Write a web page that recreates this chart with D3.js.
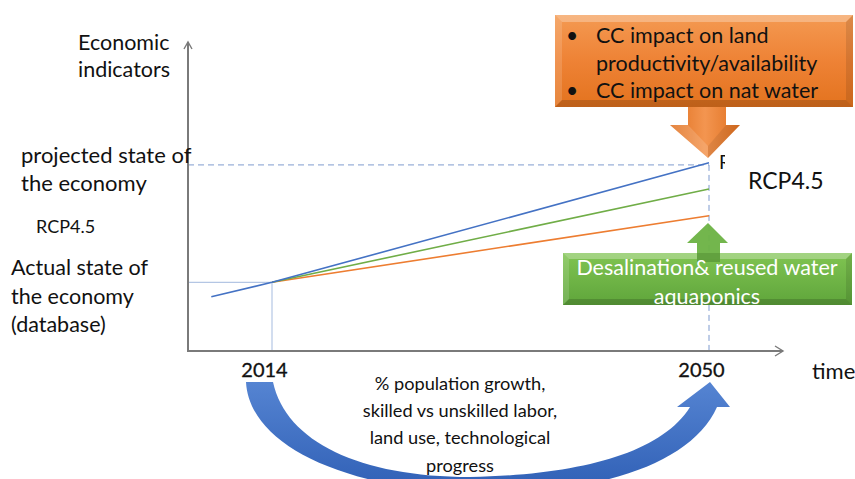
<!DOCTYPE html>
<html>
<head>
<meta charset="utf-8">
<script src="https://cdn.jsdelivr.net/npm/d3@7"></script>
<style>
  html, body { margin: 0; padding: 0; background: #fff; }
  svg { display: block; }
  text { font-family: Lato, "Open Sans", sans-serif; fill: #111; }
</style>
</head>
<body>
<svg id="chart" width="855" height="479"></svg>
<script>
// ---- data ------------------------------------------------------------
const tickYears = [2014, 2050];
const blueYears = [2009, 2014, 2050];
const blueValues = [79, 100, 274];     // projected path (RCP4.5)
const greenYears = [2014, 2050];
const greenValues = [100, 236];        // with desalination / reuse
const orangeYears = [2014, 2050];
const orangeValues = [100, 197];       // with climate-change impacts
const actualState = { year: 2014, value: 100 };
const projectedState = { year: 2050, value: 271 };

const yLabelLines = ["Economic", "indicators"];
const projectedLines = ["projected state of", "the economy"];
const actualLines = ["Actual state of", "the economy", "(database)"];
const driverLines = ["% population growth,", "skilled vs unskilled labor,", "land use, technological", "progress"];
const impactLines = ["CC impact on land", "productivity/availability", "CC impact on nat water"];
const adaptLines = ["Desalination& reused water", "aquaponics"];

// ---- scales ----------------------------------------------------------
const svg = d3.select("#chart");
const x = d3.scaleLinear().domain([2014, 2050]).range([272, 709]);
const y = d3.scaleLinear().domain([0, 450]).range([351, 42]);
const axisX0 = 188, axisXEnd = 783, axisY0 = y(0), axisYEnd = y(450);

const defs = svg.append("defs");
function vGrad(id, stops) {
  const g = defs.append("linearGradient").attr("id", id)
    .attr("x1", 0).attr("y1", 0).attr("x2", 0).attr("y2", 1);
  stops.forEach(([o, c]) => g.append("stop").attr("offset", o).attr("stop-color", c));
}
vGrad("orangeFill", [[0, "#F49A52"], [0.5, "#EE8235"], [1, "#E3731E"]]);
vGrad("greenFill", [[0, "#80C452"], [1, "#5FA53B"]]);
vGrad("blueFill", [[0, "#5584D2"], [1, "#2F5FB5"]]);
const hg = defs.append("linearGradient").attr("id", "orangeShaft")
  .attr("x1", 0).attr("y1", 0).attr("x2", 1).attr("y2", 0);
[[0, "#E0701F"], [0.5, "#F39550"], [1, "#E0701F"]].forEach(([o, c]) =>
  hg.append("stop").attr("offset", o).attr("stop-color", c));

// ---- reference lines -------------------------------------------------
svg.append("line")
  .attr("x1", axisX0).attr("x2", x(actualState.year))
  .attr("y1", y(actualState.value)).attr("y2", y(actualState.value))
  .attr("stroke", "#B4C6E4").attr("stroke-width", 1.2);
svg.append("line")
  .attr("x1", x(actualState.year)).attr("x2", x(actualState.year))
  .attr("y1", y(actualState.value)).attr("y2", axisY0)
  .attr("stroke", "#B4C6E4").attr("stroke-width", 1.2);
svg.append("line")
  .attr("x1", axisX0).attr("x2", x(projectedState.year))
  .attr("y1", y(projectedState.value)).attr("y2", y(projectedState.value))
  .attr("stroke", "#7F9BCF").attr("stroke-width", 1).attr("stroke-dasharray", "6,4");
svg.append("line")
  .attr("x1", x(projectedState.year)).attr("x2", x(projectedState.year))
  .attr("y1", y(projectedState.value)).attr("y2", axisY0)
  .attr("stroke", "#7F9BCF").attr("stroke-width", 1).attr("stroke-dasharray", "6,4");

// ---- axes --------------------------------------------------------------
const axisColor = "#7A7A7A";
svg.append("line").attr("x1", axisX0).attr("x2", axisX0)
  .attr("y1", axisY0 + 1).attr("y2", axisYEnd)
  .attr("stroke", axisColor).attr("stroke-width", 2);
svg.append("path")
  .attr("d", `M${axisX0 - 4},${axisYEnd + 7} L${axisX0},${axisYEnd} L${axisX0 + 4},${axisYEnd + 7}`)
  .attr("fill", "none").attr("stroke", axisColor).attr("stroke-width", 1.4);
svg.append("line").attr("x1", axisX0 - 1).attr("x2", axisXEnd)
  .attr("y1", axisY0).attr("y2", axisY0)
  .attr("stroke", axisColor).attr("stroke-width", 2);
svg.append("path")
  .attr("d", `M${axisXEnd - 8},${axisY0 - 5} L${axisXEnd},${axisY0} L${axisXEnd - 8},${axisY0 + 5}`)
  .attr("fill", "none").attr("stroke", axisColor).attr("stroke-width", 1.4);

const xAxis = svg.append("g").attr("transform", `translate(0,${axisY0})`)
  .call(d3.axisBottom(x).tickValues(tickYears).tickSize(0).tickPadding(0).tickFormat(d3.format("d")));
xAxis.select(".domain").remove();
xAxis.selectAll("text")
  .attr("font-family", "Lato, sans-serif").attr("font-size", 20)
  .attr("fill", "#111").attr("stroke", "#111").attr("stroke-width", 0.3)
  .attr("dx", -8).attr("dy", 26);

svg.append("text").attr("x", 812).attr("y", 379).attr("font-size", 22).text("time");

// ---- series lines ------------------------------------------------------
const line = d3.line().x(d => x(d[0])).y(d => y(d[1]));
svg.append("path").datum(d3.zip(orangeYears, orangeValues))
  .attr("d", line).attr("fill", "none").attr("stroke", "#ED7D31").attr("stroke-width", 1.6);
svg.append("path").datum(d3.zip(greenYears, greenValues))
  .attr("d", line).attr("fill", "none").attr("stroke", "#70AD47").attr("stroke-width", 1.6);
svg.append("path").datum(d3.zip(blueYears, blueValues))
  .attr("d", line).attr("fill", "none").attr("stroke", "#4472C4").attr("stroke-width", 1.6);

// ---- left-hand labels --------------------------------------------------
function lines(arr, x0, y0, step, size, anchor) {
  const t = svg.append("text").attr("font-size", size).attr("text-anchor", anchor || "start");
  arr.forEach((s, i) => t.append("tspan").attr("x", x0).attr("y", y0 + i * step).text(s));
  return t;
}
lines(yLabelLines, 78, 50, 27, 21.5);
lines(projectedLines, 21, 163, 28, 22);
svg.append("text").attr("x", 36).attr("y", 233).attr("font-size", 18).text("RCP4.5");
lines(actualLines, 11, 275, 28.5, 21.5);

// ---- driver text and curved arrow --------------------------------------
svg.append("path")
  .attr("d", "M246,382 C249,440 330,484 455,492 C585,498 690,468 717,407 " +
             "L730,407 L710,382 L677,407 L690,407 " +
             "C660,455 575,475 470,477 C360,477 286,442 273,382 Z")
  .attr("fill", "url(#blueFill)");
lines(driverLines, 460, 390, 27.2, 18.2, "middle");

// ---- climate-change impact box and arrow -------------------------------
function bevelBox(x0, y0, w, h, fill, b) {
  const g = svg.append("g");
  g.append("rect").attr("x", x0).attr("y", y0).attr("width", w).attr("height", h).attr("fill", fill);
  const x1 = x0 + w, y1 = y0 + h;
  g.append("path").attr("d", `M${x0},${y0} L${x1},${y0} L${x1 - b},${y0 + b} L${x0 + b},${y0 + b} Z`)
    .attr("fill", "rgba(255,255,255,0.28)");
  g.append("path").attr("d", `M${x0},${y0} L${x0 + b},${y0 + b} L${x0 + b},${y1 - b} L${x0},${y1} Z`)
    .attr("fill", "rgba(255,255,255,0.14)");
  g.append("path").attr("d", `M${x1},${y0} L${x1},${y1} L${x1 - b},${y1 - b} L${x1 - b},${y0 + b} Z`)
    .attr("fill", "rgba(0,0,0,0.10)");
  g.append("path").attr("d", `M${x0},${y1} L${x1},${y1} L${x1 - b},${y1 - b} L${x0 + b},${y1 - b} Z`)
    .attr("fill", "rgba(0,0,0,0.16)");
  return g;
}

// small label partly hidden behind the RCP4.5 caption
svg.append("text").attr("x", 719).attr("y", 169).attr("font-size", 19).text("R");
svg.append("rect").attr("x", 725).attr("y", 150).attr("width", 110).attr("height", 50).attr("fill", "#fff");
svg.append("text").attr("x", 748).attr("y", 189).attr("font-size", 23).text("RCP4.5");

const orangeDrop = svg.append("g");
orangeDrop.append("path")
  .attr("d", "M688,104 L726,104 L726,125 L740,125 L708,158 L670,125 L688,125 Z")
  .attr("fill", "url(#orangeShaft)");
orangeDrop.append("path")
  .attr("d", "M670,125 L688,125 L708,146 L708,158 Z")
  .attr("fill", "rgba(255,255,255,0.15)");
orangeDrop.append("path")
  .attr("d", "M740,125 L726,125 L708,146 L708,158 Z")
  .attr("fill", "rgba(0,0,0,0.08)");

bevelBox(555, 15, 298, 92, "url(#orangeFill)", 7);
const impact = svg.append("g");
impactLines.forEach((s, i) => {
  const yy = 43 + i * 27.5;
  if (i !== 1) impact.append("text").attr("x", 566).attr("y", yy).attr("font-size", 21).text("•");
  impact.append("text").attr("x", 596).attr("y", yy).attr("font-size", 21.5).text(s);
});

// ---- adaptation box and arrow -------------------------------------------
bevelBox(563, 253, 289, 52, "url(#greenFill)", 6);
svg.append("path")
  .attr("d", "M697,262 L697,243 L687,243 L708,223 L728,243 L720,243 L720,262 Z")
  .attr("fill", "#6BB243").attr("opacity", 0.95);
svg.append("path")
  .attr("d", "M697,253 L720,253 L720,262 L697,262 Z")
  .attr("fill", "rgba(0,0,0,0.10)");
const adapt = lines(adaptLines, 707, 275, 28.5, 21.5, "middle");
adapt.style("fill", "#fff");
</script>
</body>
</html>
